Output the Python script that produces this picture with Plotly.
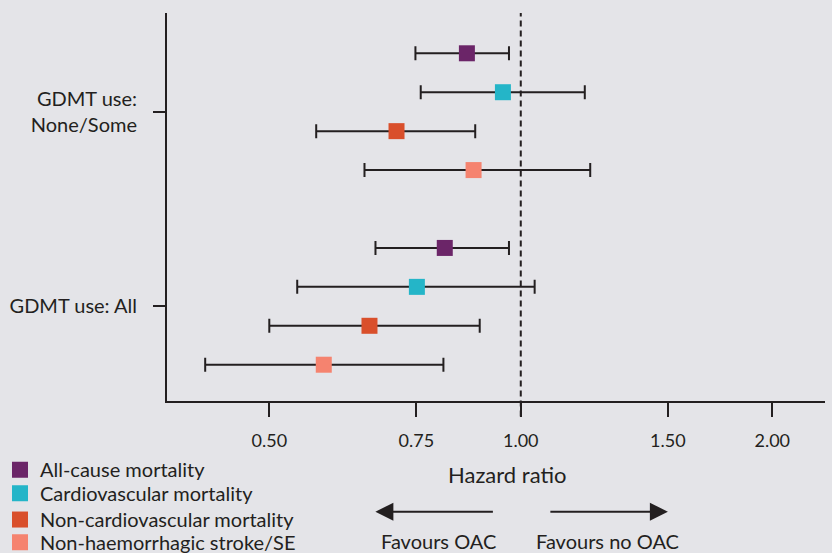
import plotly.graph_objects as go

# ---- data ----
groups = ["GDMT use:<br>None/Some", "GDMT use: All"]
outcomes = ["All-cause mortality", "Cardiovascular mortality",
            "Non-cardiovascular mortality", "Non-haemorrhagic stroke/SE"]
colors = ["#6B2568", "#24B5C8", "#D94F2B", "#F5836F"]

# hazard ratios and 95% CI, one value per group [None/Some, All]
hr_all_cause = [0.862, 0.811]
lo_all_cause = [0.748, 0.670]
hi_all_cause = [0.968, 0.968]

hr_cv = [0.952, 0.751]
lo_cv = [0.759, 0.540]
hi_cv = [1.193, 1.039]

hr_noncv = [0.710, 0.659]
lo_noncv = [0.569, 0.500]
hi_noncv = [0.882, 0.893]

hr_stroke = [0.878, 0.581]
lo_stroke = [0.650, 0.419]
hi_stroke = [1.211, 0.808]

reference_hr = 1.0
x_tickvals = [0.5, 0.75, 1.0, 1.5, 2.0]
x_ticktext = ["0.50", "0.75", "1.00", "1.50", "2.00"]

series = [
    (hr_all_cause, lo_all_cause, hi_all_cause),
    (hr_cv, lo_cv, hi_cv),
    (hr_noncv, lo_noncv, hi_noncv),
    (hr_stroke, lo_stroke, hi_stroke),
]

INK = "#231F20"
BG = "#E4E4E8"
FONT = "Lato"

legend_ids = ["legend", "legend2", "legend3", "legend4"]
legend_y = [-0.177, -0.2375, -0.3055, -0.3640]

fig = go.Figure()
for k, (name, color, (hr, lo, hi)) in enumerate(zip(outcomes, colors, series)):
    ys = [g * 5 + k for g in range(len(groups))]
    fig.add_trace(go.Scatter(
        x=hr, y=ys, mode="markers", name=name, legend=legend_ids[k],
        marker=dict(symbol="square", size=16, color=color, line=dict(width=0)),
        error_x=dict(type="data", symmetric=False,
                     array=[h - m for h, m in zip(hi, hr)],
                     arrayminus=[m - l for m, l in zip(hr, lo)],
                     color=INK, thickness=2, width=7),
        cliponaxis=False,
    ))

fig.add_shape(type="line", xref="x", yref="paper",
              x0=reference_hr, x1=reference_hr, y0=-0.04, y1=1,
              line=dict(color=INK, width=2, dash="6px,4px"), layer="below")

group_ticks = [g * 5 + 1.5 for g in range(len(groups))]

legend_style = dict(x=-0.2538, xanchor="left", yanchor="middle",
                    bgcolor="rgba(0,0,0,0)",
                    font=dict(size=20, family=FONT, color=INK))

fig.update_layout(
    width=832, height=553,
    margin=dict(l=167, r=7, t=13, b=152, autoexpand=False),
    paper_bgcolor=BG, plot_bgcolor=BG,
    font=dict(family=FONT, color=INK, size=18),
    showlegend=True,
    xaxis=dict(type="log", range=[-0.4235, 0.3642],
               tickvals=x_tickvals, ticktext=x_ticktext,
               showgrid=False, zeroline=False, automargin=False,
               showline=True, linecolor=INK, linewidth=2,
               ticks="outside", ticklen=14, tickwidth=2, tickcolor=INK,
               tickfont=dict(size=18, family=FONT, color=INK),
               ticklabelstandoff=8),
    yaxis=dict(range=[8.932, -1.035],
               tickvals=group_ticks, ticktext=groups,
               showgrid=False, zeroline=False, automargin=False,
               showline=True, linecolor=INK, linewidth=2,
               ticks="outside", ticklen=12, tickwidth=2, tickcolor=INK,
               tickfont=dict(size=20, family=FONT, color=INK),
               ticklabelstandoff=12),
)
for lid, ly in zip(legend_ids, legend_y):
    fig.update_layout({lid: dict(legend_style, y=ly)})

annos = [
    dict(text="Hazard ratio", x=0.5163, y=-0.1907, size=22),
    dict(text="Favours OAC", x=0.4129, y=-0.360, size=20),
    dict(text="Favours no OAC", x=0.670, y=-0.360, size=20),
]
for a in annos:
    fig.add_annotation(text=a["text"], x=a["x"], y=a["y"], xref="paper", yref="paper",
                       showarrow=False, xanchor="center", yanchor="middle",
                       font=dict(size=a["size"], family=FONT, color=INK))

for tip_x, tail_dx in [(0.3167, 119), (0.7612, -119)]:
    fig.add_annotation(text="", x=tip_x, y=-0.2853, xref="paper", yref="paper",
                       ax=tail_dx, ay=0, showarrow=True,
                       arrowhead=2, arrowsize=1.8, arrowwidth=2, arrowcolor=INK)

fig.write_html("out.html",
               config={"displayModeBar": False},
               post_script="document.body.style.margin='0px';"
                           "document.body.style.background='" + BG + "';")
